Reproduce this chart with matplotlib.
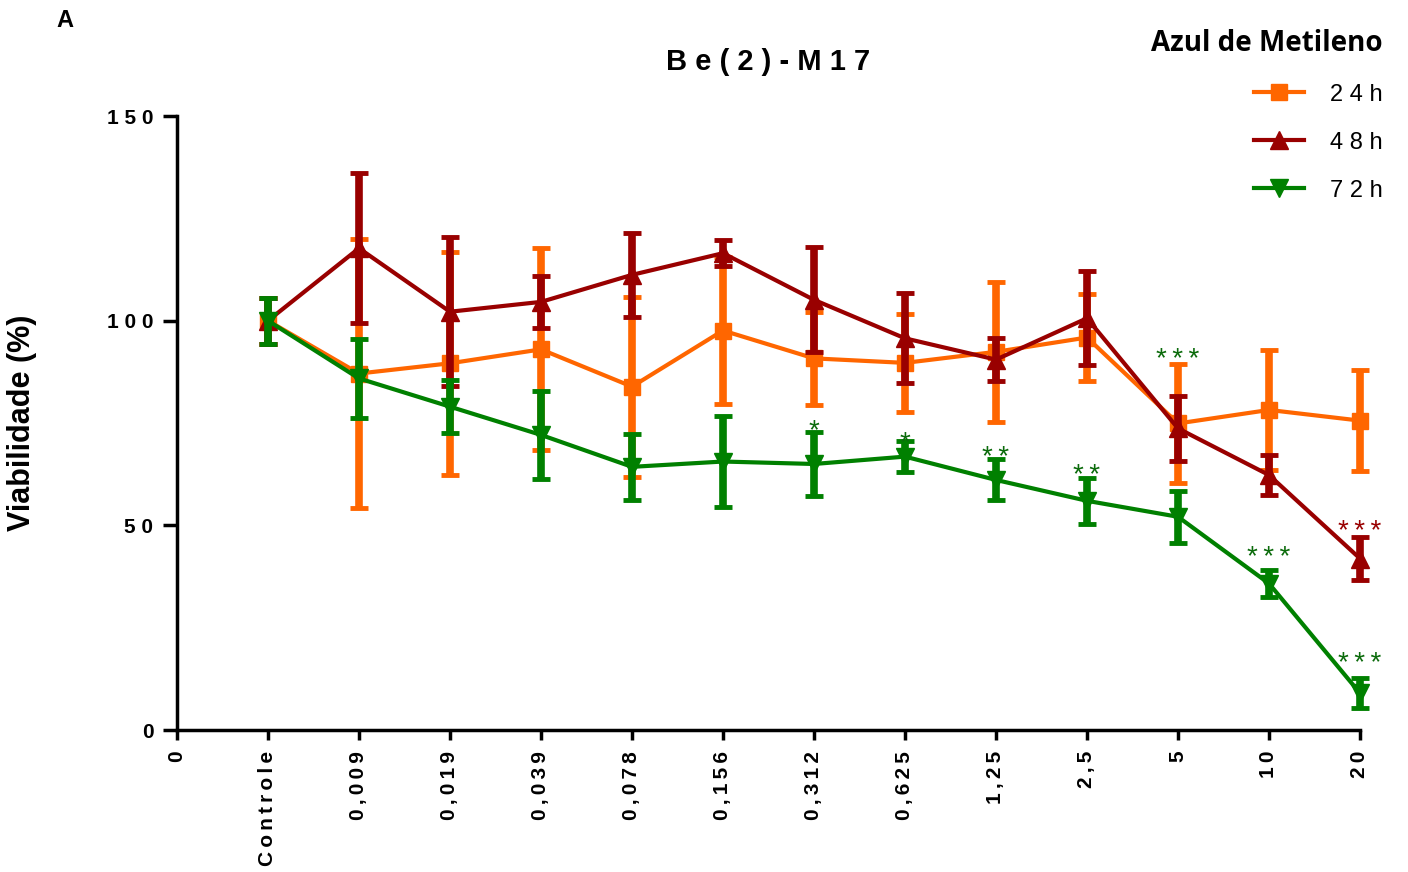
import numpy as np
import matplotlib
matplotlib.use('Agg')
import matplotlib.pyplot as plt
from matplotlib.lines import Line2D

plt.rcParams['font.family'] = ['Liberation Sans', 'DejaVu Sans']

#---Data
x_labels = ['0', 'Controle', '0,009', '0,019', '0,039', '0,078', '0,156',
            '0,312', '0,625', '1,25', '2,5', '5', '10', '20']

mean_24 = [100, 87.1, 89.6, 93.0, 83.9, 97.6, 90.8, 89.7, 92.4, 95.9, 74.9, 78.2, 75.6]
err_24 = [5.6, 32.8, 27.3, 24.7, 22.0, 18.0, 11.3, 11.9, 17.1, 10.7, 14.5, 14.7, 12.4]

mean_48 = [100, 117.7, 102.2, 104.6, 111.2, 116.5, 105.1, 95.7, 90.5, 100.6, 73.7, 62.3, 41.9]
err_48 = [5.6, 18.3, 18.2, 6.4, 10.3, 3.2, 12.8, 11.0, 5.2, 11.5, 8.0, 5.0, 5.3]

mean_72 = [100, 85.9, 79.0, 72.1, 64.3, 65.6, 65.0, 66.8, 61.1, 56.0, 52.1, 35.8, 9.0]
err_72 = [5.6, 9.7, 6.5, 10.7, 8.0, 11.2, 7.9, 3.8, 5.0, 5.6, 6.4, 3.2, 3.6]

# significance marks: (x index, text, height, series)
stars = [(7, '*', 74.5, '72h'), (8, '*', 71.6, '72h'), (9, '**', 67.9, '72h'),
         (10, '**', 63.5, '72h'), (11, '***', 91.9, '72h'), (12, '***', 43.5, '72h'),
         (13, '***', 49.8, '48h'), (13, '***', 17.6, '72h')]

c24 = '#ff6600'
c48 = '#990000'
c72 = '#008000'
star_col = {'48h': '#990000', '72h': '#0b6b0b'}


def spaced(s, sep=' '):
    return sep.join(s)


#---Plot
fig = plt.figure(figsize=(14.08, 8.72), dpi=100)
ax = fig.add_axes([0.1257, 0.1628, 0.8402, 0.7041])

x = np.arange(1, len(x_labels))
series = [(mean_24, err_24, c24, 's', 12, '24h'),
          (mean_48, err_48, c48, '^', 13, '48h'),
          (mean_72, err_72, c72, 'v', 13, '72h')]
for i, (m, e, c, mk, ms, lab) in enumerate(series):
    ax.errorbar(x, m, yerr=e, color=c, marker=mk, markersize=ms, lw=3,
                elinewidth=5.5, capsize=6.8, capthick=3.5, clip_on=False,
                zorder=3 + i)

for xi, s, y, key in stars:
    ax.text(xi, y - 1.5, spaced(s, '\u2009'), color=star_col[key], fontsize=20,
            ha='center', va='center', zorder=10)

ax.set_xlim(0, len(x_labels) - 1)
ax.set_ylim(0, 150)
ax.set_xticks(range(len(x_labels)))
ax.set_xticklabels([spaced(l, '\u2009') for l in x_labels], rotation=90,
                   fontsize=15, fontweight='bold')
ax.set_yticks([0, 50, 100, 150])
ax.set_yticklabels([spaced(str(v)) for v in [0, 50, 100, 150]],
                   fontsize=15, fontweight='bold')
ax.tick_params(axis='x', length=7, width=2.5, pad=8)
ax.tick_params(axis='y', length=10, width=2.5, pad=7)

for side in ['top', 'right']:
    ax.spines[side].set_visible(False)
for side in ['left', 'bottom']:
    ax.spines[side].set_linewidth(2.5)

ax.set_ylabel('Viabilidade (%)', fontsize=22, fontweight='bold')
ax.yaxis.set_label_coords(-0.118, 0.5)
ax.set_title(spaced('Be(2)-M17'), fontsize=21, fontweight='bold', pad=33)

fig.text(0.04, 0.99, 'A', fontsize=17, fontweight='bold', va='top')

handles = [Line2D([], [], color=c, marker=mk, markersize=ms, lw=3)
           for m, e, c, mk, ms, lab in series]
labels = [spaced(lab) for m, e, c, mk, ms, lab in series]
leg = ax.legend(handles, labels, title='Azul de Metileno', loc='upper right',
                bbox_to_anchor=(0.982, 0.967), bbox_transform=fig.transFigure,
                frameon=False, fontsize=17, handlelength=2.1, handletextpad=1.1,
                labelspacing=1.1, borderpad=0, borderaxespad=0,
                alignment='right')
leg.get_title().set_fontfamily('Open Sans')
leg.get_title().set_fontweight('bold')
leg.get_title().set_fontsize(20)

fig.savefig('out.png', dpi=100)
